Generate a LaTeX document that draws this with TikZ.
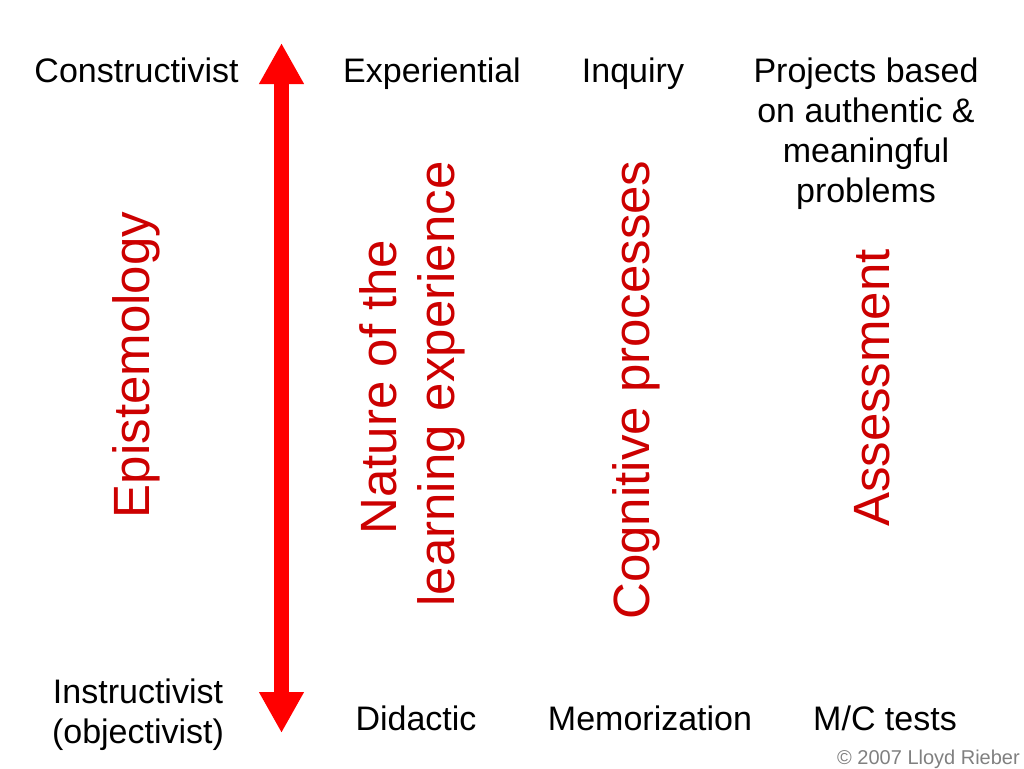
\documentclass[tikz,border=0pt]{standalone}
\usepackage{fontspec}
\setmainfont{Liberation Sans}
\usetikzlibrary{arrows.meta}
\definecolor{txtred}{RGB}{204,0,0}
\definecolor{arrred}{RGB}{255,0,0}
\definecolor{copygray}{RGB}{128,128,128}
\tikzset{
  lbl/.style={inner sep=0pt, anchor=base, font=\fontsize{34}{40}\selectfont, text=black},
  axis/.style={inner sep=0pt, anchor=base, rotate=90, font=\fontsize{51}{58}\selectfont, text=txtred},
  bigarrow/.style={draw=arrred, line width=15pt, {Triangle[width=42pt,length=41pt]}-{Triangle[width=42pt,length=41pt]}},
}
\begin{document}
\begin{tikzpicture}[x=1pt,y=-1pt]
\useasboundingbox (0,0) rectangle (1024,768);
% top labels
\node[lbl] (constr) at (136.5,82) {Constructivist};
\node[lbl] (exper) at (432,82) {Experiential};
\node[lbl] (inq) at (633,82) {Inquiry};
\node[lbl] (proj1) at (866,82) {Projects based};
\node[lbl] (proj2) at (866,122) {on authentic \&};
\node[lbl] (proj3) at (866,162) {meaningful};
\node[lbl] (proj4) at (866,202) {problems};
% bottom labels
\node[lbl] (instr1) at (138,703) {Instructivist};
\node[lbl] (instr2) at (138,743) {(objectivist)};
\node[lbl] (did) at (416,730) {Didactic};
\node[lbl] (mem) at (650,730) {Memorization};
\node[lbl] (mc) at (885,730) {M/C tests};
% red vertical labels
\node[axis] (epi) at (149,365) {Epistemology};
\node[axis] (nat1) at (396,387) {Nature of the};
\node[axis] (nat2) at (454,384) {learning experience};
\node[axis] (cog) at (649,390) {Cognitive processes};
\node[axis] (ass) at (889,388) {Assessment};
% arrow
\coordinate (atop) at (281.5,43);
\coordinate (abot) at (281.5,733);
\draw[bigarrow] (atop) -- (abot);
% copyright
\node[inner sep=0pt, anchor=base east, font=\fontsize{20}{24}\selectfont, text=copygray] (copy) at (1020,764) {© 2007 Lloyd Rieber};
\end{tikzpicture}
\end{document}
